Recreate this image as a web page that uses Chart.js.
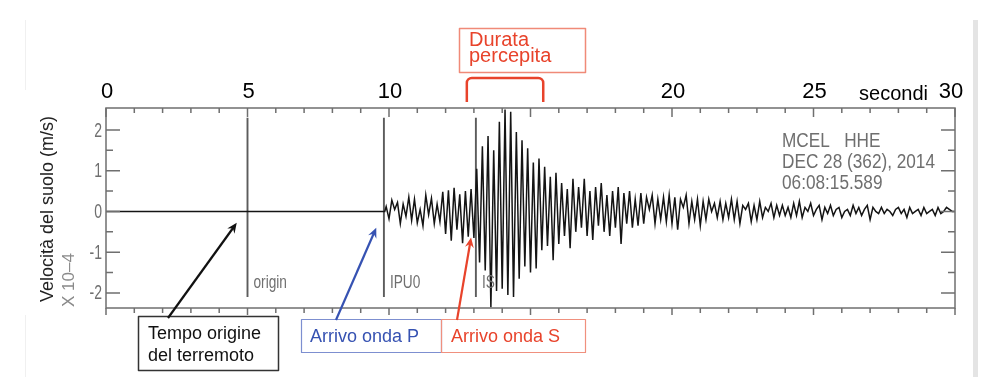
<!DOCTYPE html>
<html><head><meta charset="utf-8">
<script src="https://cdn.jsdelivr.net/npm/chart.js@4.4.1/dist/chart.umd.min.js"></script>
<style>html,body{margin:0;padding:0;background:#fff}#wrap{position:relative;width:993px;height:377px}</style>
</head><body><div id="wrap"><canvas id="c" width="993" height="377"></canvas></div>
<script>
// seismogram MCEL HHE — velocity in units of 1e-4 m/s
const quietTimes=[0,9.85];
const quietVel=[0,0];
const sampleStart=9.9, sampleStep=0.1;
const velocity=[
  0.12,-0.18,0.28,0.05,0.22,-0.3,0.18,-0.12,0.35,-0.22,    // 9.9
  0.3,-0.28,0.05,-0.35,0.4,-0.08,0.32,-0.3,0.18,-0.25,     // 10.9
  0.48,-0.55,0.52,-0.72,0.58,-0.45,0.42,-0.78,0.5,-0.62,   // 11.9
  0.55,-0.65,1.05,-1.25,1.6,-1.45,1.85,-2.35,1.5,-1.95,    // 12.9
  2.2,-1.9,2.5,-2.05,2.45,-2.1,1.95,-1.65,1.75,-1.35,      // 13.9
  1.55,-1.5,1.2,-1.4,1.3,-0.95,1.1,-0.85,0.85,-1.2,        // 14.9
  0.95,-0.8,0.7,-0.6,0.55,-0.9,0.8,-0.5,0.6,-0.4,          // 15.9
  0.8,-0.6,0.5,-0.7,0.6,-0.35,0.7,-0.5,0.4,-0.6,           // 16.9
  0.5,-0.4,0.6,-0.8,0.45,-0.3,0.5,-0.4,0.3,-0.35,          // 17.9
  0.45,-0.3,0.35,0.05,0.4,-0.3,0.3,-0.2,0.35,-0.25,        // 18.9
  0.4,-0.3,0.35,-0.45,0.3,0.1,0.4,-0.3,0.25,-0.2,          // 19.9
  0.3,-0.35,0.25,-0.2,0.3,0.0,0.2,-0.15,0.25,-0.2,         // 20.9
  0.2,-0.15,0.3,-0.2,0.25,-0.3,0.15,0.05,0.2,-0.25,        // 21.9
  0.15,-0.2,0.25,-0.15,0.1,0.0,0.2,-0.15,0.15,-0.1,        // 22.9
  0.15,-0.1,0.1,-0.15,0.2,-0.1,0.25,-0.15,0.1,0.0,         // 23.9
  0.2,-0.1,0.05,0.15,-0.2,0.1,-0.05,0.15,-0.1,0.05,        // 24.9
  0.1,-0.15,0.0,0.05,-0.1,0.15,-0.05,0.1,-0.1,0.05,        // 25.9
  0.15,-0.2,0.1,0.0,-0.05,0.1,-0.05,0.05,0.0,-0.1,         // 26.9
  0.05,0.1,-0.05,0.05,-0.15,0.1,-0.05,0.0,0.05,-0.1,       // 27.9
  0.1,-0.05,0.0,0.05,-0.1,0.1,-0.05,0.0,0.1,0.05,          // 28.9
  0,0                                                      // 29.9
];
// phase picks
const pickTimes=[5.0,9.82,13.07];
const pickLabels=['origin','IPU0','IS'];
const pickTop=2.3, pickBottom=-2.1;
// axes
const xMin=0,xMax=30,yMin=-2.37,yMax=2.54;
const topTickValues=[0,5,10,20,25,30];
const yTickValues=[2,1,0,-1,-2];
const yTickText=['2','1','0','-1','-2'];
const feltStart=12.75, feltEnd=15.45;
const header=['MCEL   HHE','DEC 28 (362), 2014','06:08:15.589'];

const tracePts=quietTimes.map((t,i)=>({x:t,y:quietVel[i]}))
  .concat(velocity.map((v,i)=>({x:+(sampleStart+i*sampleStep).toFixed(2),y:v})));

const GRAY='#6f6f6f', RED='#e8432b', BLUE='#3652b2';

function narrow(ctx,txt,x,y,align,sx){
  ctx.save(); ctx.translate(x,y); ctx.scale(sx,1);
  ctx.textAlign=align; ctx.fillText(txt,0,0); ctx.restore();
}
function arrow(ctx,x0,y0,x1,y1,col){
  const a=Math.atan2(y1-y0,x1-x0), h=11, w=0.42;
  ctx.strokeStyle=col; ctx.fillStyle=col; ctx.lineWidth=2.2;
  ctx.beginPath(); ctx.moveTo(x0,y0); ctx.lineTo(x1-Math.cos(a)*6,y1-Math.sin(a)*6); ctx.stroke();
  ctx.beginPath(); ctx.moveTo(x1,y1);
  ctx.lineTo(x1-h*Math.cos(a-w),y1-h*Math.sin(a-w));
  ctx.lineTo(x1-h*0.6*Math.cos(a),y1-h*0.6*Math.sin(a));
  ctx.lineTo(x1-h*Math.cos(a+w),y1-h*Math.sin(a+w));
  ctx.closePath(); ctx.fill();
}
function box(ctx,x,y,w,h,col,lw){ctx.strokeStyle=col;ctx.lineWidth=lw;ctx.strokeRect(x,y,w,h);}

const deco={
  id:'deco',
  afterDraw(chart){
    const {ctx,chartArea:a,scales:{x,y}}=chart;
    ctx.save();
    // page edges
    ctx.fillStyle='#e4e4e4'; ctx.fillRect(973,20,5,357);
    ctx.fillStyle='#f0f0f0'; ctx.fillRect(25,20,1,70); ctx.fillRect(25,315,1,62);
    // frame + ticks
    ctx.strokeStyle=GRAY; ctx.lineWidth=1.5;
    ctx.strokeRect(a.left,a.top,a.width,a.height);
    for(let t=xMin;t<=xMax;t++){
      const px=x.getPixelForValue(t), major=t%5===0;
      ctx.beginPath();
      ctx.moveTo(px,a.top); ctx.lineTo(px,a.top+(major?9:5));
      ctx.moveTo(px,a.bottom); ctx.lineTo(px,a.bottom+(major?7:5));
      ctx.stroke();
    }
    for(let v=-2;v<=2;v+=0.5){
      const py=y.getPixelForValue(v), major=Number.isInteger(v);
      ctx.beginPath();
      ctx.moveTo(a.left,py); ctx.lineTo(a.left+(major?14:7),py);
      ctx.moveTo(a.right,py); ctx.lineTo(a.right-(major?14:7),py);
      ctx.stroke();
    }
    // y tick labels
    ctx.fillStyle=GRAY; ctx.font='20px "Liberation Sans"'; ctx.textBaseline='middle';
    yTickValues.forEach((v,i)=>narrow(ctx,yTickText[i],a.left-4,y.getPixelForValue(v)+1,'right',0.7));
    // pick labels
    ctx.font='19px "Liberation Sans"';
    pickTimes.forEach((t,i)=>narrow(ctx,pickLabels[i],x.getPixelForValue(t)+6,y.getPixelForValue(-1.75),'left',0.72));
    // header text
    ctx.font='20px "Liberation Sans"';
    const sx=153/ctx.measureText(header[1]).width;
    header.forEach((s,i)=>narrow(ctx,s,782,141+i*21,'left',sx));
    // top axis labels
    ctx.fillStyle='#000'; ctx.font='22px "Liberation Sans"'; ctx.textAlign='center';
    topTickValues.forEach(t=>{
      const px=x.getPixelForValue(t)+(t===30?-4:1);
      ctx.fillText(String(t),px,92);
    });
    ctx.font='20px "Liberation Sans"'; ctx.textAlign='right';
    ctx.fillText('secondi',x.getPixelForValue(30)-27,94);
    // y title
    ctx.save(); ctx.translate(48,209); ctx.rotate(-Math.PI/2);
    ctx.fillStyle='#222'; ctx.font='18px "Liberation Sans"'; ctx.textAlign='center';
    ctx.fillText('Velocità del suolo (m/s)',0,0);
    ctx.fillStyle='#8a8a8a'; ctx.font='17px "Liberation Sans"';
    ctx.fillText('X 10\u20134',-71,21);
    ctx.restore();
    // felt-duration bracket + box
    const b0=x.getPixelForValue(feltStart), b1=x.getPixelForValue(feltEnd);
    ctx.strokeStyle=RED; ctx.lineWidth=2.5; ctx.lineJoin='round';
    ctx.beginPath(); ctx.moveTo(b0,102); ctx.arcTo(b0,78,b1,78,5); ctx.arcTo(b1,78,b1,102,5); ctx.lineTo(b1,102); ctx.stroke();
    box(ctx,459.5,28.5,126,44,'#f08a78',1.5);
    ctx.fillStyle=RED; ctx.font='20px "Liberation Sans"'; ctx.textAlign='left';
    ctx.fillText('Durata',469,40); ctx.fillText('percepita',469,56);
    // bottom boxes
    box(ctx,138.5,316.5,140,54,'#333',1.5);
    ctx.fillStyle='#111'; ctx.font='18px "Liberation Sans"';
    ctx.fillText('Tempo origine',148,334); ctx.fillText('del terremoto',148,356);
    box(ctx,301.5,319.5,140,33,'#7d8fd0',1.2);
    ctx.fillStyle=BLUE; ctx.fillText('Arrivo onda P',310,337);
    box(ctx,441.5,319.5,144,33,'#f0907e',1.2);
    ctx.fillStyle=RED; ctx.fillText('Arrivo onda S',451,337);
    // arrows to the picks
    arrow(ctx,168,318,x.getPixelForValue(4.62),y.getPixelForValue(-0.28),'#111');
    arrow(ctx,336,320,x.getPixelForValue(9.55),y.getPixelForValue(-0.4),BLUE);
    arrow(ctx,457,320,x.getPixelForValue(12.9),y.getPixelForValue(-0.64),RED);
    ctx.restore();
  }
};

const pickSets=pickTimes.map(t=>({
  data:[{x:t,y:pickTop},{x:t,y:pickBottom}],
  borderColor:'#5c5c5c',borderWidth:1.9,pointRadius:0
}));

new Chart(document.getElementById('c').getContext('2d'),{
  type:'line',
  data:{datasets:[
    {data:tracePts,borderColor:'#141414',borderWidth:1.5,pointRadius:0,tension:0},
    ...pickSets
  ]},
  options:{
    responsive:false,animation:false,events:[],
    layout:{padding:{left:106,right:38,top:108,bottom:69}},
    plugins:{legend:{display:false},tooltip:{enabled:false}},
    scales:{
      x:{type:'linear',min:xMin,max:xMax,display:false},
      y:{type:'linear',min:yMin,max:yMax,display:false}
    }
  },
  plugins:[deco]
});
</script></body></html>
